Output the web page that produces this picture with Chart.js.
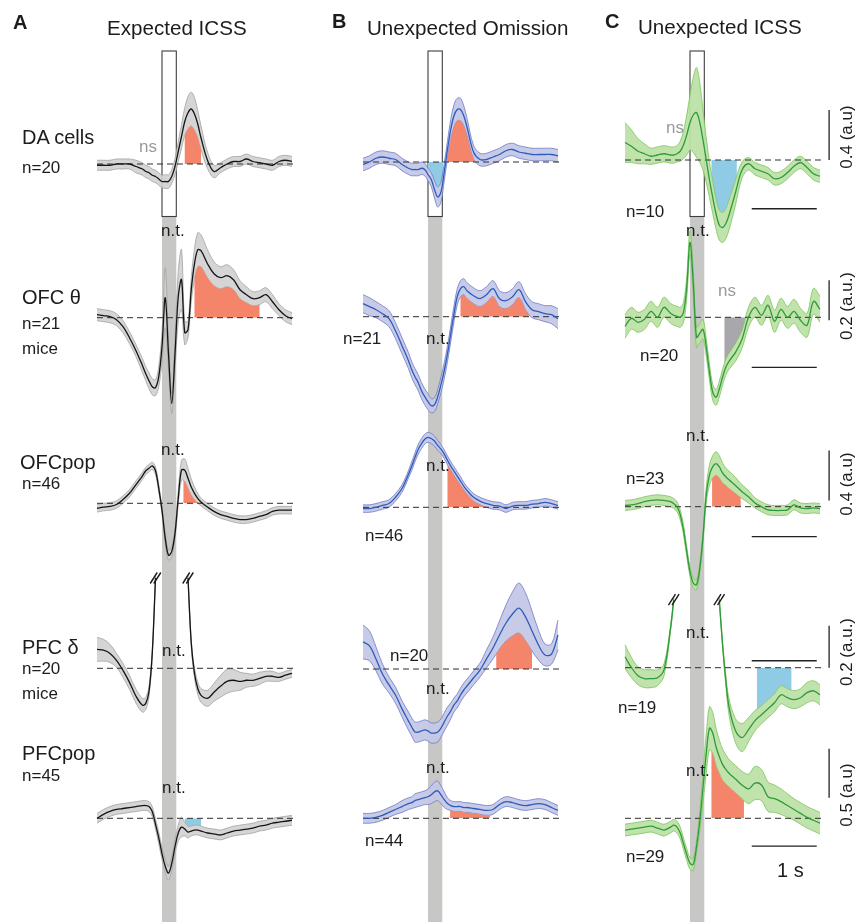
<!DOCTYPE html>
<html>
<head>
<meta charset="utf-8">
<script src="https://cdn.jsdelivr.net/npm/chart.js@4.4.1/dist/chart.umd.min.js"></script>
<style>
html,body{margin:0;padding:0;background:#fff;}
#fig{position:relative;width:856px;height:922px;overflow:hidden;background:#fff;font-family:"Liberation Sans",Arial,Helvetica,sans-serif;color:#1c1c1c;}
#fig canvas{position:absolute;left:0;top:0;}
.lbl{position:absolute;white-space:nowrap;line-height:1;transform:translateY(-50%);}
.rot{position:absolute;white-space:nowrap;line-height:1;transform:translate(-50%,-50%) rotate(-90deg);}
</style>
</head>
<body>
<div id="fig">
<canvas id="colA" width="856" height="922"></canvas>
<canvas id="colB" width="856" height="922"></canvas>
<canvas id="colC" width="856" height="922"></canvas>
</div>
<script>
// ---------------- DATA ----------------
const TIME = [-1.0,-0.9,-0.8,-0.7,-0.6,-0.5,-0.4,-0.3,-0.25,-0.2,-0.15,-0.1,-0.05,0,0.05,0.1,0.15,0.2,0.25,0.3,0.35,0.4,0.45,0.5,0.55,0.6,0.7,0.8,0.9,1.0,1.1,1.2,1.3,1.4,1.5,1.6,1.7,1.8,1.9,2.0];
const STIM = [0, 0.22];

const PANEL_TITLES = ['Expected ICSS', 'Unexpected Omission', 'Unexpected ICSS'];
const PANEL_LETTERS = ['A', 'B', 'C'];
const ROW_LABELS = ['DA cells', 'OFC θ', 'OFCpop', 'PFC δ', 'PFCpop'];
const N_A = ['n=20', 'n=21', 'n=46', 'n=20', 'n=45'];
const N_B = ['n=21', 'n=46', 'n=20', 'n=44'];
const N_C = ['n=10', 'n=20', 'n=23', 'n=19', 'n=29'];
const SCALEBAR_AU = [0.4, 0.2, 0.4, 0.2, 0.5];
const SCALEBAR_TEXT = ['0.4 (a.u)', '0.2 (a.u.)', '0.4 (a.u)', '0.2 (a.u.)', '0.5 (a.u)'];
const TIMEBAR_S = 1;

// Column A: Expected ICSS
const A_DA_MEAN = [-0.01,-0.01,-0.01,0,0,0,-0.02,-0.04,-0.06,-0.07,-0.09,-0.10,-0.12,-0.14,-0.14,-0.14,-0.10,-0.02,0.10,0.22,0.34,0.41,0.44,0.40,0.32,0.21,0.03,-0.06,-0.03,0,0.02,0.02,0.04,0.02,0.01,0,-0.01,0.02,0.03,0.02];
const A_DA_SEM  = [0.04,0.04,0.04,0.04,0.04,0.04,0.05,0.05,0.05,0.05,0.05,0.05,0.05,0.05,0.055,0.055,0.055,0.065,0.08,0.095,0.11,0.13,0.135,0.13,0.11,0.095,0.065,0.05,0.04,0.04,0.04,0.04,0.04,0.04,0.04,0.04,0.04,0.04,0.04,0.04];
const A_OFCT_MEAN = [0.015,0.01,0.005,-0.01,-0.045,-0.10,-0.165,-0.24,-0.28,-0.315,-0.345,-0.35,-0.295,-0.145,0.10,-0.18,-0.43,-0.18,0.105,0.19,-0.075,-0.06,0.14,0.27,0.34,0.335,0.27,0.22,0.20,0.21,0.19,0.14,0.115,0.095,0.10,0.115,0.08,0.04,0.01,-0.005];
const A_OFCT_SEM  = [0.03,0.03,0.03,0.03,0.03,0.03,0.03,0.035,0.035,0.04,0.04,0.04,0.05,0.075,0.15,0.075,0.05,0.075,0.125,0.15,0.06,0.04,0.06,0.075,0.085,0.08,0.07,0.06,0.055,0.055,0.05,0.045,0.04,0.035,0.035,0.035,0.035,0.03,0.03,0.03];
const A_OFCPOP_MEAN = [-0.04,-0.03,-0.025,-0.01,0.03,0.08,0.15,0.22,0.26,0.28,0.30,0.26,0.12,-0.055,-0.28,-0.415,-0.385,-0.24,0.04,0.265,0.265,0.20,0.13,0.08,0.04,0.01,-0.03,-0.065,-0.09,-0.105,-0.12,-0.13,-0.13,-0.12,-0.105,-0.09,-0.065,-0.055,-0.055,-0.055];
const A_OFCPOP_SEM  = [0.03,0.03,0.03,0.03,0.03,0.03,0.03,0.03,0.03,0.03,0.03,0.03,0.03,0.03,0.04,0.04,0.04,0.04,0.055,0.08,0.09,0.08,0.065,0.05,0.04,0.03,0.03,0.03,0.03,0.03,0.03,0.03,0.03,0.03,0.03,0.03,0.03,0.03,0.03,0.03];
const A_PFCD_MEAN = [0.09,0.086,0.071,0.038,-0.01,-0.067,-0.133,-0.176,-0.167,-0.11,0.071,0.43,null,null,null,null,null,null,null,null,null,0.43,0.12,-0.024,-0.095,-0.129,-0.143,-0.114,-0.086,-0.062,-0.057,-0.062,-0.057,-0.057,-0.048,-0.038,-0.038,-0.043,-0.033,-0.024];
const A_PFCD_SEM  = [0.057,0.052,0.043,0.033,0.033,0.033,0.033,0.033,0.029,0.024,0.014,0.01,null,null,null,null,null,null,null,null,null,0.01,0.014,0.024,0.029,0.033,0.038,0.043,0.052,0.057,0.052,0.043,0.033,0.029,0.029,0.024,0.024,0.019,0.019,0.019];
const A_PFCPOP_MEAN = [0,0.04,0.07,0.09,0.10,0.11,0.12,0.13,0.13,0.12,0.07,-0.06,-0.20,-0.36,-0.49,-0.56,-0.46,-0.29,-0.15,-0.09,-0.11,-0.14,-0.13,-0.12,-0.12,-0.13,-0.15,-0.16,-0.17,-0.15,-0.13,-0.12,-0.11,-0.10,-0.08,-0.07,-0.05,-0.04,-0.03,-0.02];
const A_PFCPOP_SEM  = [0.05,0.05,0.05,0.05,0.05,0.05,0.05,0.05,0.05,0.05,0.05,0.05,0.06,0.06,0.07,0.07,0.07,0.07,0.08,0.10,0.07,0.06,0.05,0.05,0.05,0.05,0.05,0.05,0.05,0.05,0.05,0.05,0.05,0.05,0.05,0.05,0.05,0.05,0.05,0.05];

// Column B: Unexpected Omission
const B_DA_MEAN = [-0.02,0,0.03,0.04,0.03,0.02,-0.02,-0.05,-0.06,-0.06,-0.06,-0.05,-0.06,-0.10,-0.14,-0.22,-0.28,-0.24,-0.08,0.10,0.26,0.37,0.42,0.42,0.37,0.28,0.08,0.02,0.02,0.04,0.06,0.09,0.10,0.08,0.07,0.06,0.06,0.06,0.06,0.05];
const B_DA_SEM  = [0.05,0.05,0.05,0.05,0.05,0.05,0.05,0.05,0.05,0.05,0.05,0.05,0.05,0.05,0.055,0.07,0.08,0.08,0.07,0.07,0.08,0.09,0.09,0.09,0.08,0.07,0.055,0.05,0.05,0.05,0.05,0.05,0.05,0.05,0.05,0.05,0.05,0.05,0.05,0.05];
const B_OFCT_MEAN = [0.065,0.05,0.035,0.015,-0.01,-0.07,-0.145,-0.22,-0.265,-0.30,-0.33,-0.37,-0.40,-0.425,-0.445,-0.44,-0.40,-0.34,-0.27,-0.185,-0.085,0.015,0.10,0.14,0.15,0.13,0.105,0.09,0.11,0.14,0.09,0.08,0.10,0.135,0.075,0.035,0.025,0.015,0.01,-0.01];
const B_OFCT_SEM  = [0.045,0.045,0.04,0.04,0.04,0.04,0.04,0.04,0.04,0.04,0.04,0.04,0.04,0.04,0.035,0.035,0.035,0.04,0.04,0.04,0.04,0.04,0.04,0.04,0.04,0.04,0.04,0.04,0.04,0.04,0.04,0.04,0.04,0.04,0.04,0.04,0.04,0.04,0.045,0.05];
const B_OFCPOP_MEAN = [-0.01,-0.01,0,0.015,0.03,0.08,0.15,0.265,0.33,0.40,0.465,0.51,0.545,0.56,0.55,0.53,0.495,0.465,0.425,0.375,0.33,0.29,0.25,0.21,0.17,0.135,0.08,0.05,0.03,0.015,0.01,-0.01,0.01,0.015,0.015,0.025,0.03,0.04,0.03,0.015];
const B_OFCPOP_SEM  = [0.03,0.03,0.03,0.03,0.03,0.03,0.03,0.03,0.035,0.035,0.04,0.04,0.04,0.04,0.04,0.04,0.04,0.035,0.035,0.035,0.035,0.035,0.035,0.035,0.03,0.03,0.03,0.03,0.03,0.03,0.03,0.03,0.03,0.03,0.03,0.03,0.03,0.03,0.03,0.03];
const B_PFCD_MEAN = [0.129,0.11,0.048,-0.024,-0.076,-0.124,-0.19,-0.248,-0.276,-0.30,-0.30,-0.295,-0.29,-0.295,-0.305,-0.305,-0.30,-0.281,-0.252,-0.224,-0.20,-0.171,-0.152,-0.124,-0.10,-0.081,-0.043,-0.005,0.048,0.10,0.162,0.219,0.262,0.29,0.248,0.181,0.114,0.067,0.071,0.162];
const B_PFCD_SEM  = [0.081,0.071,0.057,0.048,0.038,0.038,0.038,0.043,0.043,0.048,0.048,0.048,0.048,0.048,0.048,0.048,0.048,0.043,0.043,0.043,0.038,0.033,0.033,0.033,0.033,0.033,0.033,0.033,0.043,0.052,0.067,0.086,0.105,0.119,0.114,0.095,0.071,0.052,0.048,0.071];
const B_PFCPOP_MEAN = [0,0,0.01,0.03,0.06,0.09,0.12,0.15,0.16,0.18,0.19,0.20,0.21,0.22,0.24,0.27,0.28,0.24,0.19,0.15,0.13,0.12,0.12,0.12,0.11,0.11,0.10,0.09,0.08,0.09,0.14,0.17,0.16,0.14,0.13,0.14,0.15,0.14,0.11,0.08];
const B_PFCPOP_SEM  = [0.05,0.05,0.05,0.05,0.05,0.05,0.06,0.06,0.06,0.07,0.07,0.07,0.07,0.08,0.09,0.10,0.10,0.09,0.08,0.06,0.05,0.05,0.05,0.05,0.05,0.05,0.05,0.05,0.05,0.05,0.05,0.05,0.05,0.05,0.05,0.05,0.05,0.05,0.05,0.05];

// Column C: Unexpected ICSS
const C_DA_MEAN = [0.14,0.11,0.07,0.05,0.03,0.04,0.05,0.04,0.04,0.05,0.07,0.12,0.20,0.30,0.36,0.38,0.30,0.16,0,-0.16,-0.30,-0.43,-0.52,-0.54,-0.51,-0.44,-0.26,-0.08,-0.03,-0.07,-0.09,-0.11,-0.15,-0.14,-0.10,-0.05,-0.02,-0.06,-0.11,-0.13];
const C_DA_SEM  = [0.16,0.13,0.10,0.08,0.065,0.065,0.065,0.065,0.065,0.065,0.08,0.11,0.16,0.22,0.30,0.36,0.32,0.24,0.18,0.14,0.13,0.12,0.12,0.12,0.12,0.12,0.10,0.065,0.05,0.05,0.05,0.05,0.05,0.05,0.05,0.05,0.05,0.05,0.05,0.05];
const C_OFCT_MEAN = [-0.045,-0.005,-0.025,-0.01,0.03,0,0.05,0.02,0.01,0.005,0,0.025,0.15,0.375,0.175,-0.10,-0.08,-0.06,-0.15,-0.275,-0.375,-0.40,-0.36,-0.30,-0.25,-0.22,-0.175,-0.11,0,0.05,0.01,0.06,-0.02,0.04,0,0.03,-0.015,-0.04,0.08,0.04];
const C_OFCT_SEM  = [0.06,0.055,0.05,0.05,0.05,0.05,0.05,0.05,0.05,0.05,0.05,0.05,0.055,0.06,0.06,0.05,0.05,0.05,0.045,0.04,0.04,0.04,0.04,0.04,0.04,0.04,0.045,0.045,0.05,0.05,0.05,0.05,0.055,0.055,0.055,0.06,0.06,0.06,0.065,0.065];
const C_OFCPOP_MEAN = [0.01,0.015,0.025,0.04,0.05,0.055,0.05,0.04,0.025,0,-0.065,-0.185,-0.36,-0.52,-0.61,-0.625,-0.495,-0.24,0.095,0.255,0.32,0.345,0.32,0.27,0.24,0.215,0.17,0.12,0.08,0.03,0,-0.025,-0.03,-0.03,-0.025,0.015,-0.01,-0.015,-0.01,-0.015];
const C_OFCPOP_SEM  = [0.04,0.04,0.04,0.04,0.04,0.04,0.04,0.04,0.04,0.04,0.04,0.04,0.04,0.04,0.04,0.04,0.04,0.04,0.065,0.08,0.09,0.095,0.09,0.08,0.07,0.07,0.065,0.055,0.05,0.04,0.04,0.04,0.04,0.04,0.04,0.04,0.04,0.04,0.04,0.04];
const C_PFCD_MEAN = [0.052,0,-0.038,-0.052,-0.052,-0.048,-0.01,0.186,0.324,null,null,null,null,null,null,null,null,null,null,null,null,null,0.324,0.114,-0.057,-0.186,-0.30,-0.333,-0.295,-0.252,-0.224,-0.195,-0.167,-0.129,-0.143,-0.152,-0.143,-0.119,-0.11,-0.129];
const C_PFCD_SEM  = [0.057,0.048,0.043,0.043,0.043,0.038,0.029,0.014,0.01,null,null,null,null,null,null,null,null,null,null,null,null,null,0.01,0.014,0.024,0.038,0.057,0.067,0.057,0.048,0.043,0.043,0.043,0.043,0.043,0.043,0.043,0.048,0.048,0.048];
const C_PFCPOP_MEAN = [-0.12,-0.11,-0.10,-0.09,-0.08,-0.10,-0.12,-0.09,-0.07,-0.09,-0.15,-0.26,-0.37,-0.46,-0.47,-0.29,-0.03,0.31,0.66,0.92,0.87,0.73,0.63,0.55,0.50,0.46,0.40,0.34,0.30,0.36,0.34,0.22,0.20,0.17,0.13,0.09,0.05,0.01,-0.02,-0.05];
const C_PFCPOP_SEM  = [0.06,0.06,0.06,0.06,0.06,0.06,0.06,0.06,0.06,0.06,0.06,0.06,0.06,0.06,0.06,0.06,0.10,0.15,0.20,0.22,0.21,0.19,0.17,0.16,0.15,0.14,0.14,0.14,0.15,0.17,0.16,0.15,0.14,0.13,0.12,0.11,0.11,0.11,0.11,0.11];

const ORANGE = '#f4846a', BLUE = '#8fcbe4', GREYSIG = '#a7a7ac';

// ---------------- LAYOUT ----------------
const W = 856, H = 922;
const X_MIN = -1, X_MAX = 2.05, PX_PER_S = 65;
const PPU = [125, 200, 125, 210, 98];      // px per a.u. for each row
const BOX_PX = [51, 216.5];

const COLUMNS = [
  { id: 'colA', left: 97, base: [164, 317.7, 503.3, 668.3, 818.3],
    mean: '#151515', edge: '#a2a2a2', band: 'rgba(208,208,208,0.9)',
    rows: [
      { m: A_DA_MEAN, s: A_DA_SEM, sig: [{ from: 0.35, to: 0.6, bound: 'lower', color: ORANGE }] },
      { m: A_OFCT_MEAN, s: A_OFCT_SEM, sig: [{ from: 0.5, to: 1.5, bound: 'lower', color: ORANGE }] },
      { m: A_OFCPOP_MEAN, s: A_OFCPOP_SEM, sig: [{ from: 0.33, to: 0.57, bound: 'lower', color: ORANGE }] },
      { m: A_PFCD_MEAN, s: A_PFCD_SEM, sig: [] },
      { m: A_PFCPOP_MEAN, s: A_PFCPOP_SEM, sig: [{ from: 0.35, to: 0.6, bound: 'upper', color: BLUE }] }
    ],
    breaks: [{ row: 3, t: -0.1 }, { row: 3, t: 0.4 }], bars: null },
  { id: 'colB', left: 363, base: [162, 316.7, 507.3, 669, 818.3],
    mean: '#2d5cbd', edge: '#6f78c4', band: 'rgba(197,200,230,0.95)',
    rows: [
      { m: B_DA_MEAN, s: B_DA_SEM, sig: [{ from: 0, to: 0.23, bound: 'upper', color: BLUE }, { from: 0.3, to: 0.72, bound: 'lower', color: ORANGE }] },
      { m: B_OFCT_MEAN, s: B_OFCT_SEM, sig: [{ from: 0.5, to: 1.55, bound: 'lower', color: ORANGE }] },
      { m: B_OFCPOP_MEAN, s: B_OFCPOP_SEM, sig: [{ from: 0.3, to: 0.88, bound: 'lower', color: ORANGE }] },
      { m: B_PFCD_MEAN, s: B_PFCD_SEM, sig: [{ from: 1.05, to: 1.6, bound: 'lower', color: ORANGE }] },
      { m: B_PFCPOP_MEAN, s: B_PFCPOP_SEM, sig: [{ from: 0.34, to: 0.95, bound: 'lower', color: ORANGE }] }
    ],
    breaks: [], bars: null },
  { id: 'colC', left: 625, base: [160, 317.3, 506.7, 667.7, 818.3],
    mean: '#2f9a3c', edge: '#7cc45c', band: 'rgba(189,225,166,0.95)',
    rows: [
      { m: C_DA_MEAN, s: C_DA_SEM, sig: [{ from: 0.33, to: 0.72, bound: 'upper', color: BLUE }] },
      { m: C_OFCT_MEAN, s: C_OFCT_SEM, sig: [{ from: 0.53, to: 0.87, bound: 'upper', color: GREYSIG }] },
      { m: C_OFCPOP_MEAN, s: C_OFCPOP_SEM, sig: [{ from: 0.34, to: 0.78, bound: 'lower', color: ORANGE }] },
      { m: C_PFCD_MEAN, s: C_PFCD_SEM, sig: [{ from: 1.03, to: 1.56, bound: 'upper', color: BLUE }] },
      { m: C_PFCPOP_MEAN, s: C_PFCPOP_SEM, sig: [{ from: 0.33, to: 0.83, bound: 'lower', color: ORANGE }] }
    ],
    breaks: [{ row: 3, t: -0.25 }, { row: 3, t: 0.45 }],
    bars: { vx: 2.14, vBottom: [0, -0.015, 0.05, 0, 0.21], hFrom: 0.95, hY: [-0.39, -0.25, -0.24, 0.033, -0.283] } }
];

// ---------------- PLUGIN ----------------
const decorPlugin = {
  id: 'decor',
  beforeDatasetsDraw(chart) {
    const ctx = chart.ctx, xs = chart.scales.x;
    const xa = xs.getPixelForValue(STIM[0]), xb = xs.getPixelForValue(STIM[1]);
    ctx.save();
    ctx.fillStyle = '#c7c7c5';
    ctx.fillRect(xa, BOX_PX[1], xb - xa, H - BOX_PX[1]);
    ctx.fillStyle = '#ffffff';
    ctx.fillRect(xa, BOX_PX[0], xb - xa, BOX_PX[1] - BOX_PX[0]);
    ctx.strokeStyle = '#3c3c3c';
    ctx.lineWidth = 1.1;
    ctx.strokeRect(xa, BOX_PX[0], xb - xa, BOX_PX[1] - BOX_PX[0]);
    ctx.restore();
  },
  afterDatasetDraw(chart, args) {
    const ds = chart.data.datasets[args.index];
    if (!ds.sig || !ds.sig.length) return;
    const ctx = chart.ctx, xs = chart.scales.x, ys = chart.scales[ds.yAxisID];
    const y0 = ys.getPixelForValue(0);
    ds.sig.forEach(s => {
      const idx = s.bound === 'lower' ? args.index : args.index - 1;
      const line = chart.getDatasetMeta(idx).dataset;
      const pts = line.points;
      const xa = xs.getPixelForValue(s.from), xb = xs.getPixelForValue(s.to);
      ctx.save();
      ctx.beginPath();
      if (s.bound === 'lower') ctx.rect(xa, 0, xb - xa, y0);
      else ctx.rect(xa, y0, xb - xa, H - y0);
      ctx.clip();
      ctx.beginPath();
      let ok = true;
      try { line.path(ctx); } catch (e) { ok = false; }
      if (!ok) {
        ctx.beginPath();
        let first = true;
        pts.forEach(p => {
          if (p.skip) { first = true; return; }
          if (first) { ctx.moveTo(p.x, p.y); first = false; } else ctx.lineTo(p.x, p.y);
        });
      }
      ctx.lineTo(pts[pts.length - 1].x, y0);
      ctx.lineTo(pts[0].x, y0);
      ctx.closePath();
      ctx.fillStyle = s.color;
      ctx.fill();
      ctx.restore();
    });
  },
  afterDatasetsDraw(chart, args, opts) {
    const ctx = chart.ctx, xs = chart.scales.x;
    ctx.save();
    ctx.strokeStyle = '#1a1a1a';
    ctx.lineWidth = 1.4;
    (opts.breaks || []).forEach(b => {
      const ds = chart.data.datasets[b.row * 4];
      const pt = ds.data.find(p => p.x === b.t);
      const px = xs.getPixelForValue(b.t), py = chart.scales['y' + b.row].getPixelForValue(pt.y);
      [-1.8, 1.8].forEach(k => {
        ctx.beginPath();
        ctx.moveTo(px + k - 3.5, py + 5.5);
        ctx.lineTo(px + k + 3.5, py - 5.5);
        ctx.stroke();
      });
    });
    const bars = opts.bars;
    if (bars) {
      ctx.strokeStyle = '#222';
      ctx.lineWidth = 1.3;
      const vx = xs.getPixelForValue(bars.vx);
      const h1 = xs.getPixelForValue(bars.hFrom), h2 = xs.getPixelForValue(bars.hFrom + TIMEBAR_S);
      for (let r = 0; r < 5; r++) {
        const ys = chart.scales['y' + r];
        ctx.beginPath();
        ctx.moveTo(vx, ys.getPixelForValue(bars.vBottom[r]));
        ctx.lineTo(vx, ys.getPixelForValue(bars.vBottom[r] + SCALEBAR_AU[r]));
        ctx.stroke();
        const hy = ys.getPixelForValue(bars.hY[r]);
        ctx.beginPath();
        ctx.moveTo(h1, hy);
        ctx.lineTo(h2, hy);
        ctx.stroke();
      }
    }
    ctx.restore();
  }
};

// ---------------- BUILD ----------------
function buildColumn(col) {
  const datasets = [];
  const scales = { x: { type: 'linear', min: X_MIN, max: X_MAX, display: false, bounds: 'data' } };
  col.rows.forEach((r, i) => {
    const yid = 'y' + i;
    const base = col.base[i], ppu = PPU[i];
    scales[yid] = { type: 'linear', display: false, bounds: 'data', min: -(H - base) / ppu, max: base / ppu };
    const mean = r.m.map((v, k) => ({ x: TIME[k], y: v }));
    const up = r.m.map((v, k) => ({ x: TIME[k], y: v == null ? null : v + r.s[k] }));
    const lo = r.m.map((v, k) => ({ x: TIME[k], y: v == null ? null : v - r.s[k] }));
    const common = { yAxisID: yid, pointRadius: 0, clip: false, spanGaps: false };
    datasets.push(Object.assign({ data: mean, borderColor: col.mean, borderWidth: 1.3, tension: 0.35, fill: false }, common));
    datasets.push(Object.assign({ data: [{ x: X_MIN, y: 0 }, { x: X_MAX, y: 0 }], borderColor: '#2e2e2e', borderWidth: 1, borderDash: [6, 4], fill: false }, common));
    datasets.push(Object.assign({ data: up, borderColor: col.edge, borderWidth: 0.8, tension: 0.35, fill: false }, common));
    datasets.push(Object.assign({ data: lo, borderColor: col.edge, borderWidth: 0.8, tension: 0.35, fill: '-1', backgroundColor: col.band, sig: r.sig }, common));
  });
  const right = W - col.left - (X_MAX - X_MIN) * PX_PER_S;
  new Chart(document.getElementById(col.id), {
    type: 'line',
    data: { datasets },
    options: {
      responsive: false, animation: false, devicePixelRatio: 1, events: [],
      layout: { padding: { left: col.left, right: right, top: 0, bottom: 0 } },
      scales,
      plugins: { legend: { display: false }, tooltip: { enabled: false }, decor: { breaks: col.breaks, bars: col.bars } }
    },
    plugins: [decorPlugin]
  });
}
COLUMNS.forEach(buildColumn);

// ---------------- TEXT ----------------
const fig = document.getElementById('fig');
function addText(text, x, y, size, opts) {
  opts = opts || {};
  const d = document.createElement('div');
  d.className = opts.rot ? 'rot' : 'lbl';
  d.textContent = text;
  d.style.left = x + 'px';
  d.style.top = y + 'px';
  d.style.fontSize = size + 'px';
  if (opts.color) d.style.color = opts.color;
  if (opts.bold) d.style.fontWeight = 'bold';
  fig.appendChild(d);
}
[[13, 22], [332, 21], [605, 21]].forEach((p, i) => addText(PANEL_LETTERS[i], p[0], p[1], 20, { bold: true }));
[[107, 28], [367, 28], [638, 27]].forEach((p, i) => addText(PANEL_TITLES[i], p[0], p[1], 20.6));
[[22, 137], [22, 297], [20, 462], [22, 647], [22, 753]].forEach((p, i) => addText(ROW_LABELS[i], p[0], p[1], 20));
[[22, 167], [22, 323], [22, 483], [22, 668], [22, 775]].forEach((p, i) => addText(N_A[i], p[0], p[1], 17));
addText('mice', 22, 348, 17);
addText('mice', 22, 693, 17);
[[343, 338], [365, 535], [390, 655], [365, 840]].forEach((p, i) => addText(N_B[i], p[0], p[1], 17));
[[626, 211], [640, 355], [626, 478], [618, 707], [626, 856]].forEach((p, i) => addText(N_C[i], p[0], p[1], 17));
[[139, 146], [666, 127], [718, 290]].forEach(p => addText('ns', p[0], p[1], 17, { color: '#9a9a9a' }));
[[161, 230], [161, 449], [162, 650], [162, 787],
 [426, 338], [426, 465], [426, 688], [426, 767],
 [686, 230], [686, 435], [686, 632], [686, 770]].forEach(p => addText('n.t.', p[0], p[1], 17));
addText(TIMEBAR_S + ' s', 777, 870, 20);
[137, 306, 484, 652, 795].forEach((y, i) => addText(SCALEBAR_TEXT[i], 846, y, 17, { rot: true }));
</script>
</body>
</html>
